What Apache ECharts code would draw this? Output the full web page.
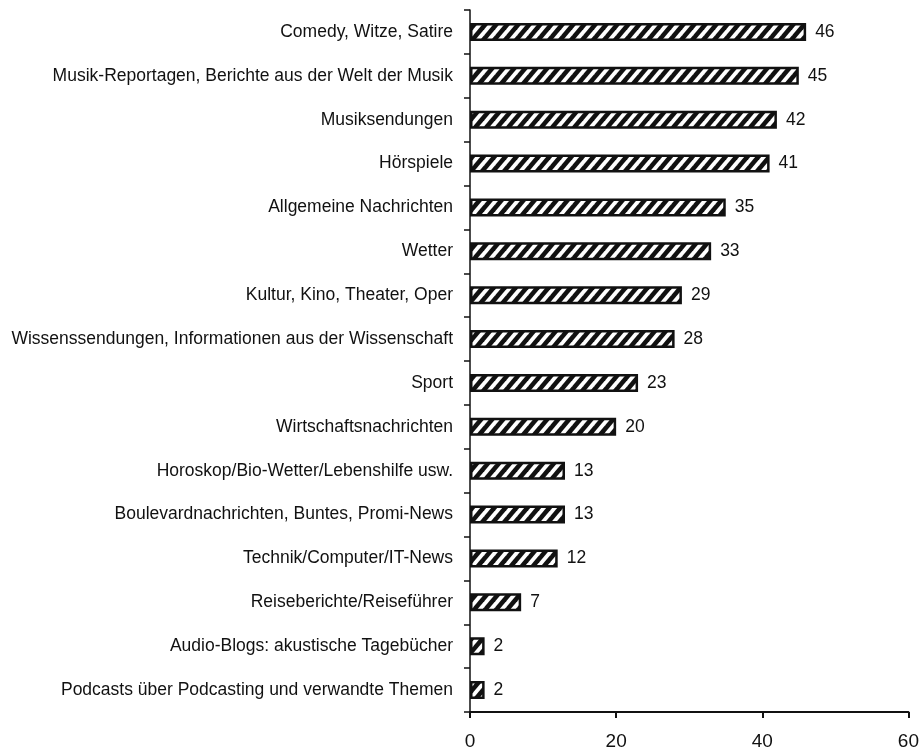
<!DOCTYPE html>
<html><head><meta charset="utf-8">
<script src="https://cdn.jsdelivr.net/npm/echarts@6/dist/echarts.min.js"></script>
<style>html,body{margin:0;padding:0;background:#fff}#c{width:922px;height:755px}</style>
</head><body><div id="c"></div>
<script>
const categories = [
  "Comedy, Witze, Satire",
  "Musik-Reportagen, Berichte aus der Welt der Musik",
  "Musiksendungen",
  "Hörspiele",
  "Allgemeine Nachrichten",
  "Wetter",
  "Kultur, Kino, Theater, Oper",
  "Wissenssendungen, Informationen aus der Wissenschaft",
  "Sport",
  "Wirtschaftsnachrichten",
  "Horoskop/Bio-Wetter/Lebenshilfe usw.",
  "Boulevardnachrichten, Buntes, Promi-News",
  "Technik/Computer/IT-News",
  "Reiseberichte/Reiseführer",
  "Audio-Blogs: akustische Tagebücher",
  "Podcasts über Podcasting und verwandte Themen"
];
const values = [46, 45, 42, 41, 35, 33, 29, 28, 23, 20, 13, 13, 12, 7, 2, 2];
const xTicks = [0, 20, 40, 60];

function hatch() {
  const w = 11, h = 13;
  const c = document.createElement('canvas');
  c.width = w; c.height = h;
  const g = c.getContext('2d');
  g.fillStyle = '#fff'; g.fillRect(0, 0, w, h);
  g.strokeStyle = '#111'; g.lineWidth = 4.6;
  for (let k = -2; k <= 2; k++) {
    g.beginPath();
    g.moveTo(k * w - w, 2 * h);
    g.lineTo(k * w + 2 * w, -h);
    g.stroke();
  }
  return c;
}

const chart = echarts.init(document.getElementById('c'));
const font = 'Liberation Sans, Arial, sans-serif';
chart.setOption({
  animation: false,
  grid: { left: 470, right: 12, top: 10, bottom: 43 },
  xAxis: {
    type: 'value', min: xTicks[0], max: xTicks[xTicks.length - 1], interval: 20,
    axisLine: { show: true, lineStyle: { color: '#111', width: 2 } },
    axisTick: { show: true, length: 6, lineStyle: { color: '#111', width: 2 } },
    axisLabel: { color: '#111', fontSize: 19, fontFamily: font, margin: 20 },
    splitLine: { show: false }
  },
  yAxis: {
    type: 'category', inverse: true, data: categories,
    axisLine: { show: true, lineStyle: { color: '#111', width: 1.5 } },
    axisTick: { show: true, length: 6, inside: false, lineStyle: { color: '#111', width: 1.5 } },
    axisLabel: { color: '#111', fontSize: 17.5, fontFamily: font, margin: 17 }
  },
  series: [{
    type: 'bar', data: values, barWidth: 18,
    itemStyle: { color: { image: hatch(), repeat: 'repeat' }, borderColor: '#111', borderWidth: 2.5 },
    label: { show: true, position: 'right', distance: 9, color: '#111', fontSize: 17.5, fontFamily: font }
  }]
});
</script></body></html>
